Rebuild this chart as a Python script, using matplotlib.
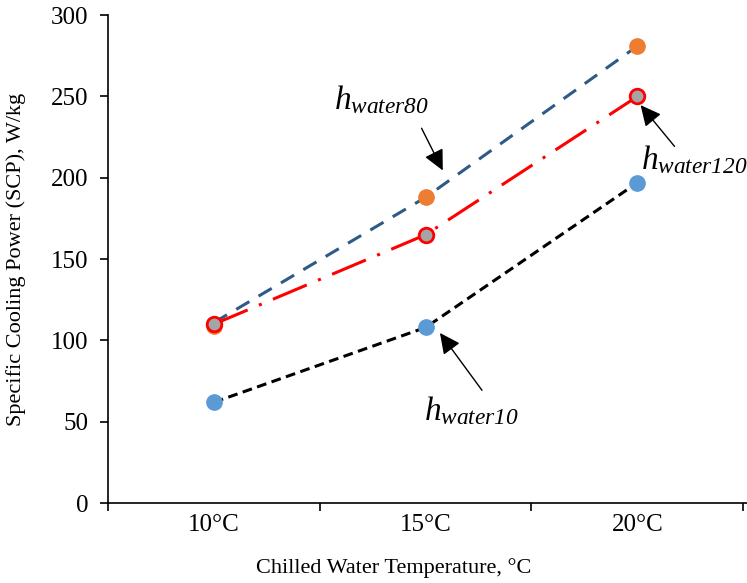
import matplotlib.pyplot as plt

plt.rcParams['font.family'] = 'Liberation Serif'
plt.rcParams['mathtext.fontset'] = 'custom'
plt.rcParams['mathtext.rm'] = 'Liberation Serif:italic'
plt.rcParams['mathtext.it'] = 'Liberation Serif:italic'

categories = ['10\u00b0C', '15\u00b0C', '20\u00b0C']
x = [0, 1, 2]

# marker values
scp_orange = [109, 188, 281]
scp_grey = [110, 165, 250]
scp_blue = [62, 108, 197]

# line values
line_water80 = [111, 188, 281]
line_water120 = [110, 165, 250]
line_water10 = [62, 108, 197]

fig = plt.figure(figsize=(7.47, 5.83), dpi=100)
ax = fig.add_axes([0.1446, 0.137, 0.856, 0.837])

ax.plot(x, line_water80, color='#2E5A87', lw=2.2, dashes=(5, 3.5), zorder=2)
ax.plot(x, scp_orange, 'o', color='#ED7D31', ms=11, zorder=3)
ax.plot(x, line_water120, color='#FF0000', lw=2.2, dashes=(12, 4, 1, 4), zorder=4)
ax.plot(x, scp_grey, 'o', mfc='#A5A5A5', mec='#FF0000', mew=2, ms=10.5, zorder=5)
ax.plot(x, line_water10, color='black', lw=2.2, dashes=(3.2, 1.8), zorder=2)
ax.plot(x, scp_blue, 'o', color='#5B9BD5', ms=11, zorder=3)

arrow = dict(arrowstyle='-|>,head_length=0.45,head_width=0.22', color='black',
             lw=1, mutation_scale=28)
ax.annotate('', xy=(1.087, 203), xytext=(0.975, 232), arrowprops=arrow)
ax.annotate('', xy=(2.007, 246), xytext=(2.184, 218), arrowprops=arrow)
ax.annotate('', xy=(1.06, 106), xytext=(1.274, 68), arrowprops=arrow)

ax.text(0.565, 248, r'$h_{water80}$', fontsize=24, ha='left', va='center')
ax.text(2.015, 211, r'$h_{water120}$', fontsize=24, ha='left', va='center')
ax.text(0.994, 57, r'$h_{water10}$', fontsize=24, ha='left', va='center')

ax.set_xlim(-0.5, 2.52)
ax.set_ylim(0, 300)
ax.set_yticks(range(0, 301, 50))
ax.set_xticks([-0.5, 0.5, 1.5, 2.5])
ax.set_xticklabels([])
ax.set_xticks(x, minor=True)
ax.set_xticklabels(categories, minor=True)
ax.tick_params(axis='x', which='minor', length=0, pad=8, labelsize=18)
ax.tick_params(axis='x', which='major', length=6, width=1.2, direction='out')
ax.tick_params(axis='y', length=6, width=1.2, direction='out', labelsize=18, pad=8)

for s in ['top', 'right']:
    ax.spines[s].set_visible(False)
for s in ['left', 'bottom']:
    ax.spines[s].set_linewidth(1.2)

ax.set_xlabel('Chilled Water Temperature, \u00b0C', fontsize=16)
ax.set_ylabel('Specific Cooling Power (SCP), W/kg', fontsize=16)
ax.xaxis.set_label_coords(0.447, -0.113)
ax.yaxis.set_label_coords(-0.128, 0.5)

fig.savefig('out.png', dpi=100)
